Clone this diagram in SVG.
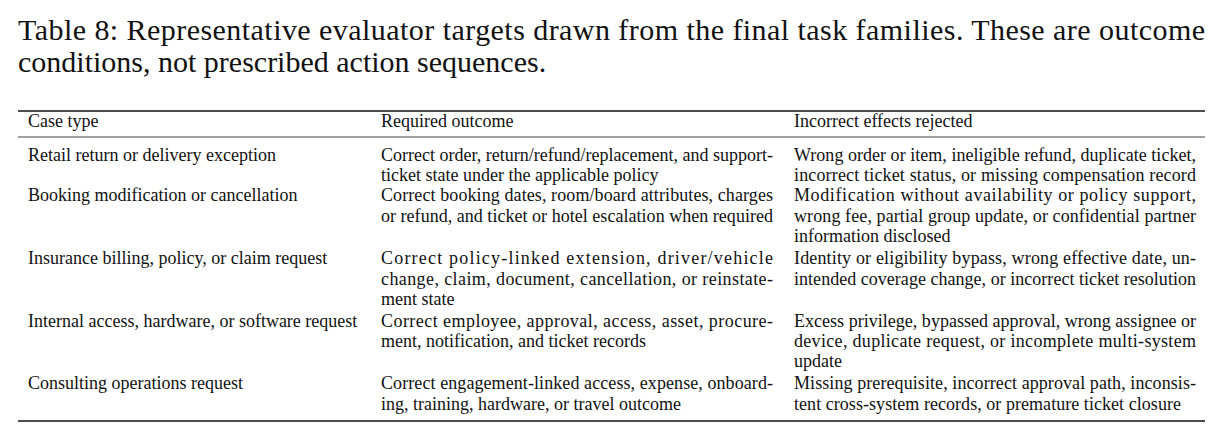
<svg xmlns="http://www.w3.org/2000/svg" width="1224" height="440" viewBox="0 0 1224 440">
<style>
text{font-family:"Liberation Serif","Times New Roman",serif;fill:#111}
.cap{font-size:30px}
.b{font-size:18px}
.r{stroke:#111}
</style>
<rect width="1224" height="440" fill="#fff"/>
<g id="caption">
<text class="cap" x="18" y="40" textLength="1187" lengthAdjust="spacing">Table 8: Representative evaluator targets drawn from the final task families. These are outcome</text>
<text class="cap" x="18" y="72">conditions, not prescribed action sequences.</text>
</g>
<g id="rules">
<line class="r" x1="18" y1="111" x2="1205" y2="111" stroke-width="1.4"/>
<line class="r" x1="18" y1="137" x2="1205" y2="137" stroke-width="0.8"/>
<line class="r" x1="18" y1="421" x2="1205" y2="421" stroke-width="1.4"/>
</g>
<g id="header">
<text class="b" x="28" y="127">Case type</text>
<text class="b" x="381" y="127">Required outcome</text>
<text class="b" x="794" y="127">Incorrect effects rejected</text>
</g>
<g id="row1">
<text class="b" x="28" y="161">Retail return or delivery exception</text>
<text class="b" x="381" y="161" textLength="392" lengthAdjust="spacing">Correct order, return/refund/replacement, and support-</text>
<text class="b" x="381" y="181">ticket state under the applicable policy</text>
<text class="b" x="794" y="161" textLength="402" lengthAdjust="spacing">Wrong order or item, ineligible refund, duplicate ticket,</text>
<text class="b" x="794" y="181" textLength="402" lengthAdjust="spacing">incorrect ticket status, or missing compensation record</text>
</g>
<g id="row2">
<text class="b" x="28" y="201">Booking modification or cancellation</text>
<text class="b" x="381" y="201" textLength="392" lengthAdjust="spacing">Correct booking dates, room/board attributes, charges</text>
<text class="b" x="381" y="222" textLength="392" lengthAdjust="spacing">or refund, and ticket or hotel escalation when required</text>
<text class="b" x="794" y="201" textLength="402" lengthAdjust="spacing">Modification without availability or policy support,</text>
<text class="b" x="794" y="222" textLength="402" lengthAdjust="spacing">wrong fee, partial group update, or confidential partner</text>
<text class="b" x="794" y="242">information disclosed</text>
</g>
<g id="row3">
<text class="b" x="28" y="264">Insurance billing, policy, or claim request</text>
<text class="b" x="381" y="264" textLength="392" lengthAdjust="spacing">Correct policy-linked extension, driver/vehicle</text>
<text class="b" x="381" y="285" textLength="392" lengthAdjust="spacing">change, claim, document, cancellation, or reinstate-</text>
<text class="b" x="381" y="305">ment state</text>
<text class="b" x="794" y="264" textLength="402" lengthAdjust="spacing">Identity or eligibility bypass, wrong effective date, un-</text>
<text class="b" x="794" y="285" textLength="402" lengthAdjust="spacing">intended coverage change, or incorrect ticket resolution</text>
</g>
<g id="row4">
<text class="b" x="28" y="327">Internal access, hardware, or software request</text>
<text class="b" x="381" y="327" textLength="392" lengthAdjust="spacing">Correct employee, approval, access, asset, procure-</text>
<text class="b" x="381" y="347">ment, notification, and ticket records</text>
<text class="b" x="794" y="327" textLength="402" lengthAdjust="spacing">Excess privilege, bypassed approval, wrong assignee or</text>
<text class="b" x="794" y="347" textLength="402" lengthAdjust="spacing">device, duplicate request, or incomplete multi-system</text>
<text class="b" x="794" y="367">update</text>
</g>
<g id="row5">
<text class="b" x="28" y="389">Consulting operations request</text>
<text class="b" x="381" y="389" textLength="392" lengthAdjust="spacing">Correct engagement-linked access, expense, onboard-</text>
<text class="b" x="381" y="410">ing, training, hardware, or travel outcome</text>
<text class="b" x="794" y="389" textLength="402" lengthAdjust="spacing">Missing prerequisite, incorrect approval path, inconsis-</text>
<text class="b" x="794" y="410" textLength="387" lengthAdjust="spacing">tent cross-system records, or premature ticket closure</text>
</g>
</svg>
